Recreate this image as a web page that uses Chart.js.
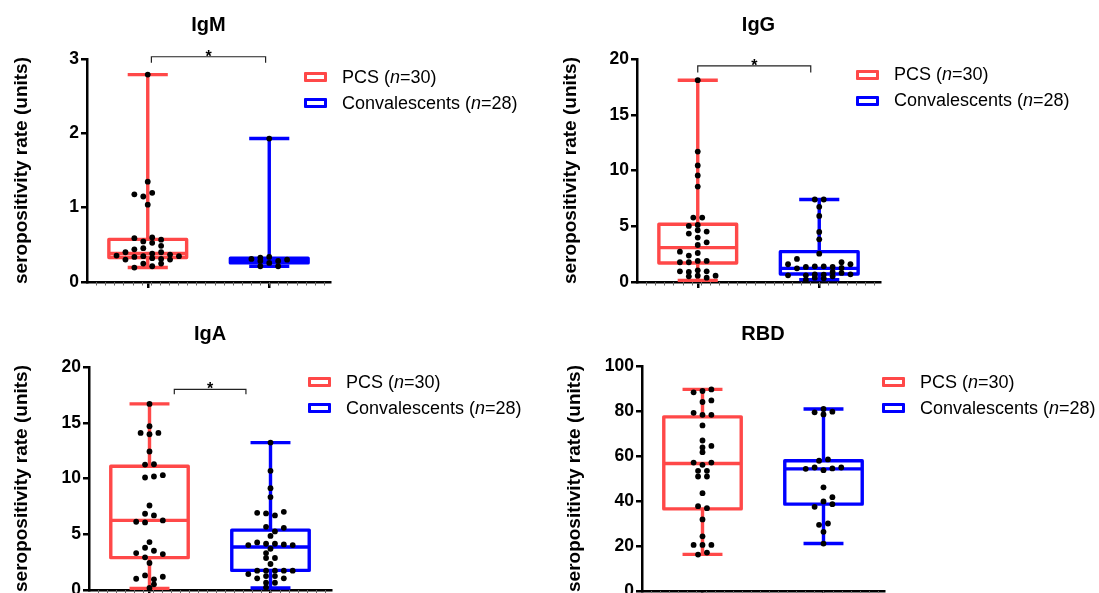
<!DOCTYPE html>
<html><head><meta charset="utf-8">
<script src="https://cdn.jsdelivr.net/npm/chart.js@4.4.1/dist/chart.umd.min.js"></script>
<style>
html,body{margin:0;padding:0;background:#fff;overflow:hidden;}
#wrap{position:relative;width:1099px;height:593px;overflow:hidden;font-family:Arial,"Liberation Sans",Helvetica,sans-serif;}
canvas{position:absolute;}
.ttl{position:absolute;width:120px;text-align:center;font-weight:bold;font-size:20px;line-height:20px;color:#000;}
.leg{position:absolute;font-size:18px;color:#000;}
.item{display:flex;align-items:center;height:26px;white-space:nowrap;}
.sw{width:17px;height:4px;border:3px solid;background:#fff;margin-right:15px;border-radius:1px;}
</style></head><body><div id="wrap"></div>
<script>
// ---------- data ----------
const categories = ['PCS', 'Convalescents'];
const legendParts = [['PCS (', 'n', '=30)'], ['Convalescents (', 'n', '=28)']];
const panelTitles = ['IgM', 'IgG', 'IgA', 'RBD'];
const yAxisTitle = 'seropositivity rate (units)';
const groupColors = ['#ff4848', '#0000ff'];

const igmTicks = [0, 1, 2, 3];
const iggTicks = [0, 5, 10, 15, 20];
const igaTicks = [0, 5, 10, 15, 20];
const rbdTicks = [0, 20, 40, 60, 80, 100];

// box stats: [min, q1, median, q3, max]
const igmPcsBox = [0.195, 0.33, 0.384, 0.573, 2.79];
const igmConBox = [0.21, 0.257, 0.29, 0.32, 1.93];
const iggPcsBox = [0.15, 1.71, 3.08, 5.18, 18.1];
const iggConBox = [0.21, 0.72, 1.22, 2.72, 7.40];
const igaPcsBox = [0.15, 2.90, 6.24, 11.1, 16.69];
const igaConBox = [0.18, 1.76, 3.85, 5.37, 13.22];
const rbdPcsBox = [16.3, 36.5, 56.7, 77.4, 89.6];
const rbdConBox = [21.1, 38.6, 54.3, 57.9, 80.9];

// individual values and beeswarm slot (half-column index)
const igmPcsValues = [2.79,1.35,1.18,1.15,1.20,1.04,0.59,0.60,0.57,0.546,0.527,0.486,0.44,0.455,0.40,0.383,0.40,0.356,0.338,0.347,0.369,0.347,0.302,0.32,0.311,0.302,0.248,0.212,0.248,0.194];
const igmPcsSlots  = [0,0,-3,-1,1,0,-3,1,3,-1,1,3,-3,-1,-5,1,3,-7,-3,-1,5,7,-5,1,3,5,-1,1,3,-3];
const igmConValues = [1.93,0.31,0.329,0.338,0.284,0.257,0.284,0.30,0.212,0.212];
const igmConSlots  = [0,-4,-2,0,-2,0,2,4,-2,2];

const iggPcsValues = [18.1,11.7,10.45,9.55,8.56,5.78,5.78,5.03,5.12,4.34,4.64,4.52,3.98,3.32,3.56,2.72,2.37,2.60,1.77,1.77,1.89,1.89,0.96,0.90,1.05,0.96,0.51,0.57,0.39,0.57];
const iggPcsSlots  = [0,0,0,0,0,-1,1,-2,0,-2,0,2,0,0,2,-4,-2,0,-4,-2,0,2,-4,-2,0,2,-2,0,2,4];
const iggConValues = [7.40,7.40,6.74,5.93,4.49,3.83,2.54,2.07,1.59,1.23,1.35,1.41,1.41,1.35,1.77,1.59,0.90,1.26,0.60,0.60,0.69,0.66,0.51,0.81,0.69,0.21,0.33,0.39];
const iggConSlots  = [-1,1,0,0,0,0,0,-5,-7,-5,-3,-1,1,3,5,7,3,5,-7,-3,-1,1,3,5,7,-3,1,-1];

const igaPcsValues = [16.69,14.69,14.09,13.97,14.09,12.42,11.25,11.28,10.09,10.18,10.30,7.58,6.84,6.69,6.12,6.06,6.24,4.30,3.79,3.52,3.31,3.22,2.93,2.42,1.01,1.31,0.96,1.19,0.51,0.18];
const igaPcsSlots  = [0,0,-2,0,2,0,-1,1,-1,1,3,0,-1,1,-3,-1,3,0,-1,1,-3,3,-1,0,-3,-1,1,3,1,0];
const igaConValues = [13.22,10.69,9.13,8.33,6.92,6.87,6.69,7.01,5.67,5.25,5.58,4.85,4.03,4.27,4.15,4.15,4.09,4.03,3.70,3.31,2.87,2.87,2.33,1.43,1.73,1.73,1.73,1.73,1.73,1.05,1.25,1.25,1.05,0.65,0.65,0.24];
const igaConSlots  = [0,0,0,0,-3,-1,1,3,-1,1,3,0,-5,-3,-1,1,3,5,0,-1,-1,1,0,-5,-3,-1,1,3,5,-3,-1,1,3,-1,1,-1];

const rbdPcsValues = [88.3,88.9,89.6,84.0,84.7,79.2,78.3,78.3,73.6,66.9,63.8,64.5,61.7,57.1,56.1,57.1,53.4,53.4,50.9,50.9,43.5,37.7,36.8,31.8,24.3,20.5,20.5,20.5,16.2,17.1];
const rbdPcsSlots  = [-2,0,2,0,2,-2,0,2,0,0,0,2,0,-2,0,2,-1,1,-1,1,0,-1,1,0,0,-2,0,2,-1,1];
const rbdConValues = [79.4,80.9,79.7,78.5,57.9,58.5,54.3,54.9,53.7,54.5,54.9,46.1,37.4,39.8,41.7,38.6,29.4,30.0,26.3,21.1];
const rbdConSlots  = [-2,0,2,0,-1,1,-4,-2,0,2,4,0,-2,0,2,2,-1,1,0,0];

// significance brackets: [x1, x2, yTop, yEnd, label]
const igmSig = [1.03, 1.97, 3.03, 2.95, '*'];
const iggSig = [1.0, 1.93, 19.38, 18.78, '*'];
const igaSig = [1.205, 1.797, 18.0, 17.55, '*'];
const rbdSig = null;

// ---------- style constants ----------
const SLOT_W = 0.0367, BOX_HALF = 0.32, CAP_HALF = 0.165, MINOR = 0.075;

Chart.defaults.font.family = 'Arial, "Liberation Sans", Helvetica, sans-serif';

function boxPath(c, b) {
  const [mn, q1, md, q3, mx] = b; const G = {x: c, y: null};
  return [
    {x: c - CAP_HALF, y: mn}, {x: c + CAP_HALF, y: mn}, G,
    {x: c, y: mn}, {x: c, y: q1}, G,
    {x: c, y: q1}, {x: c + BOX_HALF, y: q1}, {x: c + BOX_HALF, y: q3}, {x: c - BOX_HALF, y: q3}, {x: c - BOX_HALF, y: q1}, {x: c, y: q1}, G,
    {x: c - BOX_HALF, y: md}, {x: c + BOX_HALF, y: md}, G,
    {x: c, y: q3}, {x: c, y: mx}, G,
    {x: c - CAP_HALF, y: mx}, {x: c + CAP_HALF, y: mx}
  ];
}

const minorTicks = {
  id: 'minorTicks',
  afterDraw(chart) {
    const xs = chart.scales.x, ctx = chart.ctx, yb = chart.chartArea.bottom;
    ctx.save(); ctx.strokeStyle = '#666'; ctx.lineWidth = 1;
    for (let v = 0.5 + MINOR; v < 2.5 - 1e-6; v += MINOR) {
      const px = Math.round(xs.getPixelForValue(v)) + 0.5;
      ctx.beginPath(); ctx.moveTo(px, yb); ctx.lineTo(px, yb + 3.5); ctx.stroke();
    }
    ctx.restore();
  }
};
const starPlugin = {
  id: 'star',
  afterDatasetsDraw(chart, args, opts) {
    const s = opts.sig; if (!s) return;
    const ctx = chart.ctx;
    const px = chart.scales.x.getPixelForValue((s[0] + s[1]) / 2);
    const py = chart.scales.y.getPixelForValue(s[2]);
    ctx.save(); ctx.fillStyle = '#000'; ctx.font = 'bold 16px Arial, "Liberation Sans", sans-serif';
    ctx.textAlign = 'center'; ctx.textBaseline = 'alphabetic';
    ctx.fillText(s[4], px, py + 5); ctx.restore();
  }
};

const wrap = document.getElementById('wrap');

function makePanel(p) {
  const cl = Math.round(p.ytc - 15.4), ct = p.top - 50;
  const w = Math.round(p.right - cl + 10), h = Math.round(p.bottom - ct + 20);
  const axisW = p.axisX - cl;
  const cv = document.createElement('canvas');
  cv.width = w; cv.height = h; cv.style.left = cl + 'px'; cv.style.top = ct + 'px';
  cv.style.width = w + 'px'; cv.style.height = h + 'px';
  wrap.appendChild(cv);

  const datasets = [];
  p.groups.forEach((g, i) => {
    const c = i + 1;
    datasets.push({
      type: 'scatter', order: 0, clip: false,
      data: g.values.map((v, k) => ({x: c + g.slots[k] * SLOT_W, y: v})),
      pointRadius: 2.9, pointBackgroundColor: '#000', pointBorderWidth: 0, showLine: false
    });
    datasets.push({
      type: 'line', order: 1, clip: false, data: boxPath(c, g.box),
      borderColor: g.color, borderWidth: 3.4, pointRadius: 0, fill: false, tension: 0,
      spanGaps: false, borderJoinStyle: 'round', borderCapStyle: 'butt'
    });
  });
  if (p.sig) {
    const s = p.sig;
    datasets.push({
      type: 'line', order: 2, clip: false,
      data: [{x: s[0], y: s[3]}, {x: s[0], y: s[2]}, {x: s[1], y: s[2]}, {x: s[1], y: s[3]}],
      borderColor: '#222', borderWidth: 1.2, pointRadius: 0, fill: false, tension: 0
    });
  }
  const ticks = p.ticks;
  new Chart(cv, {
    type: 'scatter',
    data: {datasets},
    options: {
      responsive: false, animation: false, devicePixelRatio: 1,
      layout: {padding: {left: 0, top: 50, right: w - (p.right - cl), bottom: 6}},
      plugins: {legend: {display: false}, tooltip: {enabled: false}, title: {display: false}, star: {sig: p.sig}},
      scales: {
        x: {
          type: 'linear', min: 0.5, max: 2.5, position: 'bottom',
          afterBuildTicks: s => { s.ticks = categories.map((c, i) => ({value: i + 1})); },
          afterFit: s => { s.height = 14; },
          ticks: {display: false},
          grid: {display: true, drawOnChartArea: false, drawTicks: true, tickLength: 6, color: '#000', lineWidth: 2.5},
          border: {display: true, color: '#000', width: 2.5}
        },
        y: {
          type: 'linear', min: ticks[0], max: ticks[ticks.length - 1], position: 'left',
          afterBuildTicks: s => { s.ticks = ticks.map(v => ({value: v})); },
          afterFit: s => { s.width = axisW; },
          ticks: {color: '#000', font: {size: 17.5, weight: 'bold'}, padding: 2},
          grid: {display: true, drawOnChartArea: false, drawTicks: true, tickLength: 6, color: '#000', lineWidth: 2.5},
          border: {display: true, color: '#000', width: 2.5},
          title: {display: true, text: yAxisTitle, color: '#000', font: {size: 19, weight: 'bold'}, padding: {top: 4, bottom: 4}}
        }
      }
    },
    plugins: [minorTicks, starPlugin]
  });

  const t = document.createElement('div');
  t.className = 'ttl'; t.textContent = p.title;
  t.style.left = (p.titleX - 60) + 'px'; t.style.top = (p.titleY - 9.8) + 'px';
  wrap.appendChild(t);

  const lg = document.createElement('div');
  lg.className = 'leg'; lg.style.left = p.legX + 'px'; lg.style.top = (p.legY - 13) + 'px';
  legendParts.forEach((parts, i) => {
    const it = document.createElement('div'); it.className = 'item';
    const sw = document.createElement('span'); sw.className = 'sw'; sw.style.borderColor = groupColors[i];
    it.appendChild(sw);
    const tx = document.createElement('span');
    tx.appendChild(document.createTextNode(parts[0]));
    const em = document.createElement('i'); em.textContent = parts[1]; tx.appendChild(em);
    tx.appendChild(document.createTextNode(parts[2]));
    it.appendChild(tx);
    lg.appendChild(it);
  });
  wrap.appendChild(lg);
}

makePanel({title: panelTitles[0], ticks: igmTicks, sig: igmSig,
  axisX: 87, top: 59, bottom: 282, right: 330, ytc: 21, titleX: 208.5, titleY: 23.5, legX: 304, legY: 77,
  groups: [{values: igmPcsValues, slots: igmPcsSlots, box: igmPcsBox, color: groupColors[0]},
           {values: igmConValues, slots: igmConSlots, box: igmConBox, color: groupColors[1]}]});
makePanel({title: panelTitles[1], ticks: iggTicks, sig: iggSig,
  axisX: 637, top: 59, bottom: 282, right: 880, ytc: 570, titleX: 758.5, titleY: 23.5, legX: 856, legY: 74.7,
  groups: [{values: iggPcsValues, slots: iggPcsSlots, box: iggPcsBox, color: groupColors[0]},
           {values: iggConValues, slots: iggConSlots, box: iggConBox, color: groupColors[1]}]});
makePanel({title: panelTitles[2], ticks: igaTicks, sig: igaSig,
  axisX: 89, top: 367, bottom: 590, right: 331, ytc: 21.6, titleX: 210, titleY: 333, legX: 308, legY: 382,
  groups: [{values: igaPcsValues, slots: igaPcsSlots, box: igaPcsBox, color: groupColors[0]},
           {values: igaConValues, slots: igaConSlots, box: igaConBox, color: groupColors[1]}]});
makePanel({title: panelTitles[3], ticks: rbdTicks, sig: rbdSig,
  axisX: 642, top: 366, bottom: 591, right: 884, ytc: 574, titleX: 763, titleY: 333, legX: 882, legY: 382,
  groups: [{values: rbdPcsValues, slots: rbdPcsSlots, box: rbdPcsBox, color: groupColors[0]},
           {values: rbdConValues, slots: rbdConSlots, box: rbdConBox, color: groupColors[1]}]});
</script>
</body></html>
